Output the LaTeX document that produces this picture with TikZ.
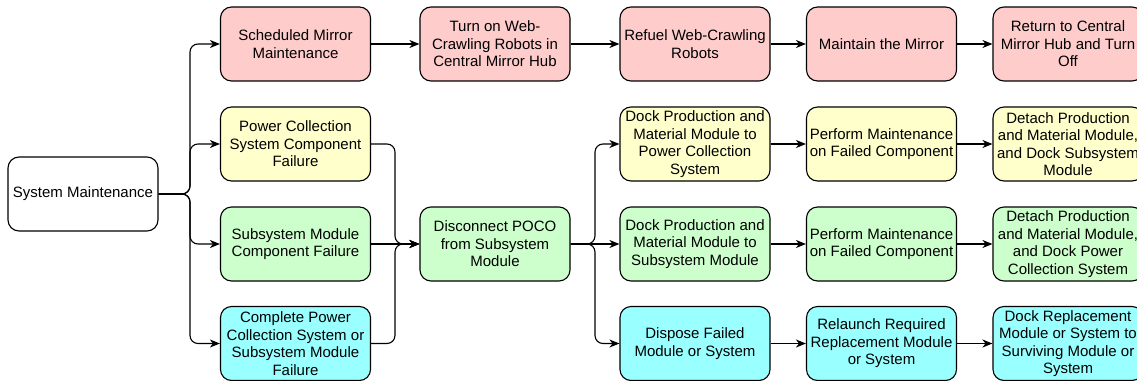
\documentclass[tikz,border=0pt]{standalone}
\usepackage{fontspec}
\setmainfont{Liberation Sans}
\usetikzlibrary{arrows.meta}

\definecolor{redfill}{HTML}{FFCCCC}
\definecolor{yellowfill}{HTML}{FFFFCC}
\definecolor{greenfill}{HTML}{CCFFCC}
\definecolor{cyanfill}{HTML}{99FFFF}

\tikzset{
  box/.style={draw=black, line width=1.1pt, rounded corners=11pt,
    minimum width=150pt, minimum height=74pt, inner sep=0pt,
    align=center, font=\fontsize{15}{17.5}\selectfont},
  redbox/.style={box, fill=redfill},
  yellowbox/.style={box, fill=yellowfill},
  greenbox/.style={box, fill=greenfill},
  cyanbox/.style={box, fill=cyanfill},
  whitebox/.style={box, fill=white},
  arr/.style={draw=black, line width=1.1pt, rounded corners=8pt,
    -{Stealth[length=10pt,width=8pt,inset=3pt]}},
}

\begin{document}
\begin{tikzpicture}[x=1pt,y=-1pt]
\useasboundingbox (0,0) rectangle (1137,380);

% start node
\node[whitebox] (sys) at (83,194) {System Maintenance};

% second column: triggers
\node[redbox]    (sched) at (295.5,44)  {Scheduled Mirror\\Maintenance};
\node[yellowbox] (pcs)   at (295.5,144) {Power Collection\\System Component\\Failure};
\node[greenbox]  (ssm)   at (295.5,244) {Subsystem Module\\Component Failure};
\node[cyanbox]   (comp)  at (295.5,343.5) {Complete Power\\Collection System or\\Subsystem Module\\Failure};

% third column
\node[redbox]   (turn) at (495,44)  {Turn on Web-\\Crawling Robots in\\Central Mirror Hub};
\node[greenbox] (disc) at (495,244) {Disconnect POCO\\from Subsystem\\Module};

% fourth column
\node[redbox]    (refuel) at (695,44)  {Refuel Web-Crawling\\Robots};
\node[yellowbox] (dockP)  at (695,144) {Dock Production and\\Material Module to\\Power Collection\\System};
\node[greenbox]  (dockS)  at (695,244) {Dock Production and\\Material Module to\\Subsystem Module};
\node[cyanbox]   (disp)   at (695,343.5) {Dispose Failed\\Module or System};

% fifth column
\node[redbox]    (maint) at (881.5,44)  {Maintain the Mirror};
\node[yellowbox] (perfP) at (881.5,144) {Perform Maintenance\\on Failed Component};
\node[greenbox]  (perfS) at (881.5,244) {Perform Maintenance\\on Failed Component};
\node[cyanbox]   (relau) at (881.5,343.5) {Relaunch Required\\Replacement Module\\or System};

% sixth column
\node[redbox]    (ret)   at (1068,44)  {Return to Central\\Mirror Hub and Turn\\Off};
\node[yellowbox] (detS)  at (1068,144) {Detach Production\\and Material Module,\\and Dock Subsystem\\Module};
\node[greenbox]  (detP)  at (1068,244) {Detach Production\\and Material Module,\\and Dock Power\\Collection System};
\node[cyanbox]   (dockR) at (1068,343.5) {Dock Replacement\\Module or System to\\Surviving Module or\\System};

% branching points
\coordinate (busL) at (190,194);
\coordinate (busM) at (395,244);
\coordinate (busR) at (595,244);

% fan-out from the start node
\draw[arr] (sys.east) -- (busL) |- (sched.west);
\draw[arr] (sys.east) -- (busL) |- (pcs.west);
\draw[arr] (sys.east) -- (busL) |- (ssm.west);
\draw[arr] (sys.east) -- (busL) |- (comp.west);

% merge into disconnect step
\draw[arr] (pcs.east) -| (busM) -- (disc.west);
\draw[arr] (ssm.east) -- (disc.west);
\draw[arr] (comp.east) -| (busM) -- (disc.west);

% fan-out from disconnect step
\draw[arr] (disc.east) -- (busR) |- (dockP.west);
\draw[arr] (disc.east) -- (dockS.west);
\draw[arr] (disc.east) -- (busR) |- (disp.west);

% straight chains
\draw[arr] (sched.east) -- (turn.west);
\draw[arr] (turn.east) -- (refuel.west);
\draw[arr] (refuel.east) -- (maint.west);
\draw[arr] (maint.east) -- (ret.west);

\draw[arr] (dockP.east) -- (perfP.west);
\draw[arr] (perfP.east) -- (detS.west);
\draw[arr] (dockS.east) -- (perfS.west);
\draw[arr] (perfS.east) -- (detP.west);
\draw[arr] (disp.east) -- (relau.west);
\draw[arr] (relau.east) -- (dockR.west);
\end{tikzpicture}
\end{document}
